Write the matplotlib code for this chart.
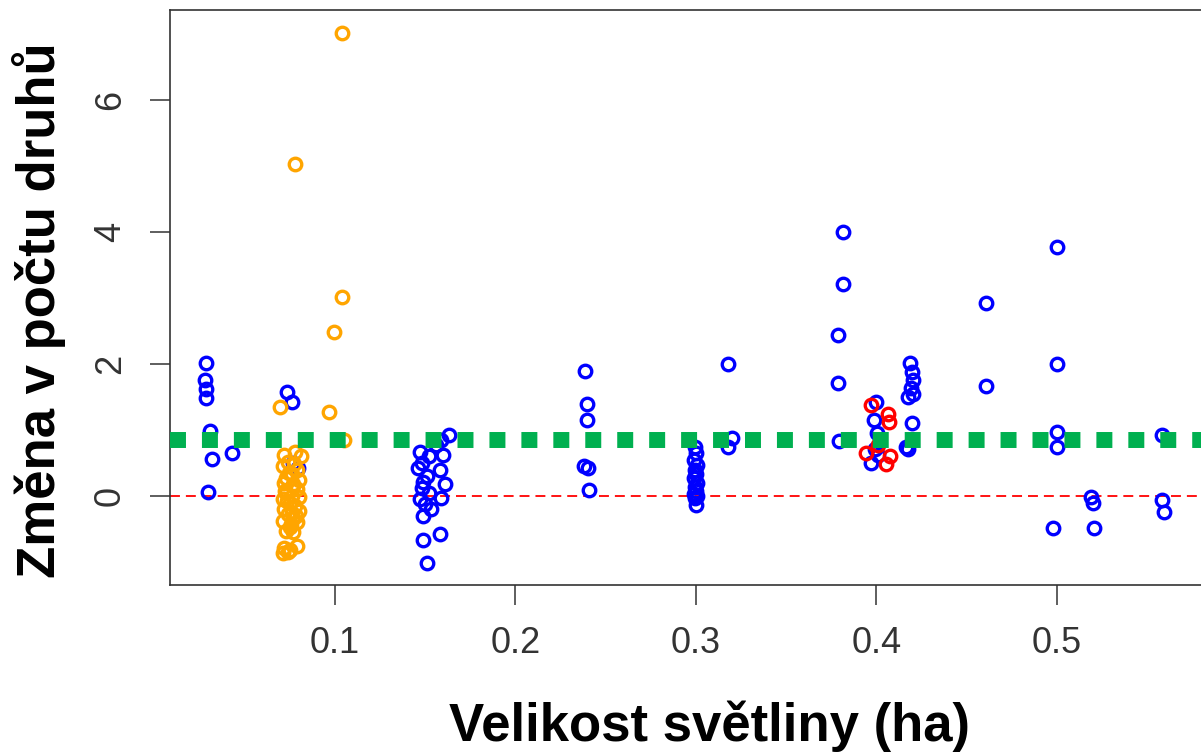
import numpy as np
import matplotlib.pyplot as plt

plt.rcParams['font.family'] = ['Liberation Sans', 'DejaVu Sans']

# blue points (jittered gap sizes, change in species count)
blue_x = [0.0285, 0.0280, 0.0283, 0.0287, 0.0310, 0.0318, 0.0430, 0.0295,
          0.0735, 0.0760, 0.0770, 0.0795,
          0.1630, 0.1590, 0.1560, 0.1470, 0.1520, 0.1600, 0.1480, 0.1460, 0.1580,
          0.1510, 0.1490, 0.1610, 0.1480, 0.1520, 0.1590, 0.1470, 0.1500, 0.1530,
          0.1490, 0.1580, 0.1490, 0.1510,
          0.2385, 0.2395, 0.2395, 0.2380, 0.2400, 0.2407,
          0.3180, 0.3198, 0.3180,
          0.2995, 0.3000, 0.2990, 0.3005, 0.2995, 0.3000, 0.2990, 0.3005, 0.2995,
          0.3000, 0.2990, 0.3005, 0.2995, 0.3000,
          0.3813, 0.3813, 0.3788, 0.3788, 0.3795,
          0.3995, 0.3985, 0.4005, 0.3990, 0.3970, 0.4010,
          0.4185, 0.4195, 0.4205, 0.4190, 0.4205, 0.4175, 0.4195, 0.4175, 0.4165,
          0.4607, 0.4607,
          0.5002, 0.5000, 0.5002, 0.5002, 0.4980, 0.5190, 0.5200, 0.5205,
          0.5580, 0.5580, 0.5593]
blue_y = [2.01, 1.76, 1.62, 1.48, 0.98, 0.56, 0.65, 0.06,
          1.58, 1.43, 0.50, 0.42,
          0.92, 0.85, 0.78, 0.66, 0.60, 0.62, 0.50, 0.42, 0.40,
          0.30, 0.22, 0.18, 0.12, 0.05, -0.03, -0.05, -0.12, -0.20,
          -0.30, -0.57, -0.67, -1.02,
          1.90, 1.39, 1.15, 0.45, 0.42, 0.09,
          2.00, 0.88, 0.75,
          0.74, 0.65, 0.55, 0.47, 0.40, 0.33, 0.27, 0.20, 0.14,
          0.08, 0.03, 0.00, -0.03, -0.13,
          4.00, 3.22, 2.44, 1.72, 0.84,
          1.42, 1.15, 0.95, 0.72, 0.50, 0.62,
          2.01, 1.88, 1.76, 1.64, 1.55, 1.50, 1.10, 0.72, 0.75,
          2.92, 1.67,
          3.77, 2.00, 0.97, 0.75, -0.49, -0.01, -0.11, -0.49,
          0.92, -0.06, -0.24]

orange_x = [0.1040, 0.0778, 0.1040, 0.0994, 0.0695, 0.0968, 0.1050,
            0.0720, 0.0780, 0.0810, 0.0740, 0.0710, 0.0790, 0.0760, 0.0730,
            0.0800, 0.0720, 0.0770, 0.0790, 0.0730, 0.0760, 0.0800, 0.0710,
            0.0750, 0.0780, 0.0720, 0.0800, 0.0740, 0.0770, 0.0710, 0.0790,
            0.0750, 0.0730, 0.0770, 0.0720, 0.0750, 0.0710, 0.0790, 0.0740,
            0.0745, 0.0765, 0.0735, 0.0785, 0.0755, 0.0725, 0.0775, 0.0760]
orange_y = [7.02, 5.03, 3.02, 2.49, 1.35, 1.27, 0.85,
            0.62, 0.66, 0.60, 0.52, 0.45, 0.40, 0.33, 0.27,
            0.25, 0.20, 0.15, 0.10, 0.05, 0.00, -0.02, -0.05,
            -0.10, -0.15, -0.20, -0.22, -0.27, -0.33, -0.38, -0.40,
            -0.47, -0.53, -0.55, -0.78, -0.82, -0.86, -0.76, -0.85,
            0.35, 0.18, -0.07, -0.30, -0.42, 0.08, 0.48, -0.25]

red_x = [0.3970, 0.4065, 0.4070, 0.3940, 0.4075, 0.4050, 0.4010]
red_y = [1.38, 1.24, 1.12, 0.65, 0.60, 0.48, 0.78]

mean_change = 0.855

xticks = [0.1, 0.2, 0.3, 0.4, 0.5]
yticks = [0, 2, 4, 6]

fig = plt.figure(figsize=(12.01, 7.52), dpi=100)
ax = fig.add_axes([170/1201, 1-585/752, (1205-170)/1201, (585-10)/752])

ax.axhline(0, color='#FF0000', lw=1.3, dashes=(5.5, 3.3), zorder=1)

mk = dict(marker='o', ls='none', mfc='none', ms=9, mew=2.4, zorder=3)
ax.plot(blue_x, blue_y, mec='#0000FF', **mk)
ax.plot(orange_x, orange_y, mec='#FFA500', **mk)
ax.plot(red_x, red_y, mec='#FF0000', **mk)

ax.axhline(mean_change, color='#00B050', lw=11.5, dashes=(1, 1),
           solid_capstyle='butt', dash_capstyle='butt', zorder=5)

ax.set_xlim(0.0086, 0.582)
ax.set_ylim(-1.348, 7.364)
ax.set_xticks(xticks)
ax.set_xticklabels([str(t) for t in xticks])
ax.set_yticks(yticks)
ax.set_yticklabels([str(t) for t in yticks], rotation=90, va='center')

ax.tick_params(axis='both', length=14.4, width=1.1, color='#333333',
               labelsize=26, labelcolor='#333333')
ax.tick_params(axis='x', pad=15)
ax.tick_params(axis='y', pad=16)
for s in ax.spines.values():
    s.set_linewidth(1.2)
    s.set_color('#333333')

fig.text(710/1201, 1-741/752, 'Velikost světliny (ha)', fontsize=38,
         fontweight='bold', ha='center', va='baseline')
fig.text(55/1201, 1-310/752, 'Změna v počtu druhů', fontsize=38,
         fontweight='bold', rotation=90, rotation_mode='anchor',
         ha='center', va='baseline')

plt.savefig('out.png', dpi=100)
